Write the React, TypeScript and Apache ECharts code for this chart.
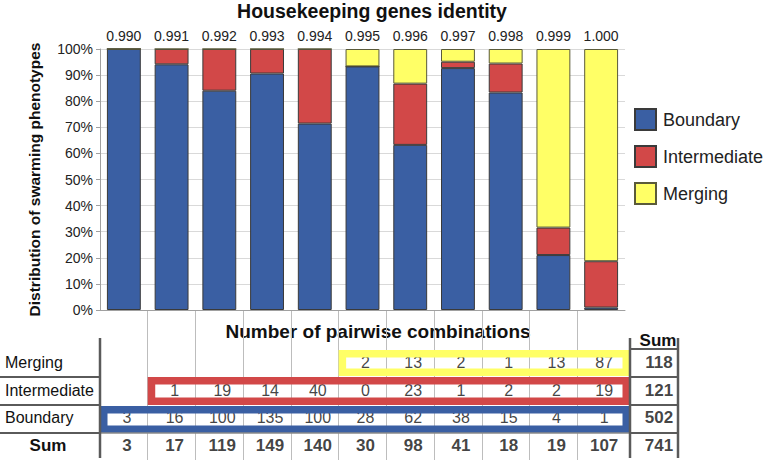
import React, { useEffect, useRef } from 'react';
import * as echarts from 'echarts';

const identity = ['0.990', '0.991', '0.992', '0.993', '0.994', '0.995', '0.996', '0.997', '0.998', '0.999', '1.000'];
const boundaryCounts: (number | null)[] = [3, 16, 100, 135, 100, 28, 62, 38, 15, 4, 1];
const intermediateCounts: (number | null)[] = [null, 1, 19, 14, 40, 0, 23, 1, 2, 2, 19];
const mergingCounts: (number | null)[] = [null, null, null, null, null, 2, 13, 2, 1, 13, 87];
const tableRows = ['Merging', 'Intermediate', 'Boundary', 'Sum'];
const yTicks = [0, 10, 20, 30, 40, 50, 60, 70, 80, 90, 100];

const BLUE = '#3A5FA3';
const RED = '#D24848';
const YELLOW = '#FFFF66';
const FONT = '"Liberation Sans", Arial, Helvetica, sans-serif';

const PLOT_LEFT = 100;
const PLOT_RIGHT = 625;

export default function App() {
  const ref = useRef<HTMLDivElement>(null);
  useEffect(() => {
    const chart = echarts.init(ref.current!, null, { renderer: 'svg' });
    const n = identity.length;
    const v = (x: number | null) => (x === null ? 0 : x);
    const colTotals = identity.map((_, i) => v(boundaryCounts[i]) + v(intermediateCounts[i]) + v(mergingCounts[i]));
    const rowTotal = (arr: (number | null)[]) => arr.reduce((s: number, x) => s + v(x), 0);
    const rowTotals = [rowTotal(mergingCounts), rowTotal(intermediateCounts), rowTotal(boundaryCounts)];
    const grand = colTotals.reduce((s, x) => s + x, 0);
    const pct = (arr: (number | null)[]) => arr.map((x, i) => (v(x) / colTotals[i]) * 100);

    const cellW = (PLOT_RIGHT - PLOT_LEFT) / n;
    const firstIdx = (arr: (number | null)[]) => arr.findIndex((x) => x !== null);

    const barCommon = {
      type: 'bar',
      stack: 'total',
      xAxisIndex: 0,
      yAxisIndex: 0,
      barCategoryGap: '29%',
    };

    const cellSeries = (name: string, row: number, values: (number | null)[], bold: boolean, xi: number, yi: number, off: number) => ({
      type: 'scatter',
      name,
      xAxisIndex: xi,
      yAxisIndex: yi,
      symbolSize: 1,
      silent: true,
      itemStyle: { color: 'rgba(0,0,0,0)' },
      data: values
        .map((val, i) => (val === null ? null : [i, row, val]))
        .filter((d) => d !== null),
      label: {
        show: true,
        position: 'inside',
        formatter: (p: any) => String(p.value[2]),
        fontSize: bold ? 17 : 16,
        fontWeight: bold ? 'bold' : 'normal',
        color: '#111',
        fontFamily: FONT,
        offset: [off, 0],
      },
    });

    const box = (x0: number, y0: number, x1: number, y1: number, color: string) => {
      const lw = 7.5;
      return {
        type: 'rect',
        silent: true,
        z: 5,
        shape: { x: x0 + lw / 2, y: y0 + lw / 2, width: x1 - x0 - lw, height: y1 - y0 - lw },
        style: { fill: 'none', stroke: color, lineWidth: lw },
      };
    };
    const line = (x1: number, y1: number, x2: number, y2: number, color: string, w: number) => ({
      type: 'line',
      silent: true,
      z: 10,
      shape: { x1, y1, x2, y2 },
      style: { stroke: color, lineWidth: w },
    });
    const dark = '#5a5a5a';

    const option: any = {
      animation: false,
      textStyle: { fontFamily: FONT },
      legend: {
        orient: 'vertical',
        left: 634,
        top: 108,
        padding: 0,
        itemWidth: 21,
        itemHeight: 21,
        itemGap: 14,
        icon: 'rect',
        data: ['Boundary', 'Intermediate', 'Merging'],
        textStyle: { fontSize: 18, color: '#222', fontFamily: FONT, padding: [0, 0, 0, 2] },
      },
      grid: [
        { left: PLOT_LEFT, right: 768 - PLOT_RIGHT, top: 49, bottom: 150 },
        { left: PLOT_LEFT, right: 768 - PLOT_RIGHT, top: 310, bottom: 0 },
        { left: PLOT_LEFT, right: 768 - PLOT_RIGHT, top: 349, height: 110 },
        { left: 630, width: 48, top: 349, height: 110 },
      ],
      xAxis: [
        {
          type: 'category', gridIndex: 0, position: 'bottom', data: identity,
          axisLabel: { show: false }, axisTick: { show: false },
          axisLine: { lineStyle: { color: '#a0a0a0' } },
        },
        {
          type: 'category', gridIndex: 0, position: 'top', data: identity,
          axisLabel: { fontSize: 14, color: '#222', margin: 6 },
          axisLine: { show: false }, axisTick: { show: false },
        },
        {
          type: 'category', gridIndex: 1, data: identity,
          axisLabel: { show: false }, axisTick: { show: false }, axisLine: { show: false },
          splitLine: { show: true, showMinLine: false, showMaxLine: false, lineStyle: { color: '#bdbdbd', width: 1 } },
        },
        { type: 'category', gridIndex: 2, data: identity, show: false },
        { type: 'category', gridIndex: 3, data: ['Sum'], show: false },
      ],
      yAxis: [
        {
          type: 'value', gridIndex: 0, min: 0, max: 100, interval: 10,
          axisLabel: { formatter: (val: number) => (yTicks.includes(val) ? val + '%' : ''), fontSize: 14, color: '#222', margin: 7 },
          axisLine: { show: true, lineStyle: { color: '#a0a0a0' } },
          axisTick: { show: true, length: 4, lineStyle: { color: '#a0a0a0' } },
          splitLine: { lineStyle: { color: '#d9d9d9' } },
          name: 'Distribution of swarming phenotypes',
          nameLocation: 'middle',
          nameGap: 58,
          nameTextStyle: { fontSize: 15.5, fontWeight: 'bold', color: '#111' },
        },
        { type: 'value', gridIndex: 1, show: false },
        {
          type: 'category', gridIndex: 2, data: tableRows, inverse: true,
          axisLine: { show: false }, axisTick: { show: false }, splitLine: { show: false },
          axisLabel: {
            align: 'left', margin: 95, fontSize: 16, color: '#111',
            formatter: (val: string) => (val === 'Sum' ? '{s|Sum}' : val),
            rich: { s: { fontWeight: 'bold', fontSize: 17, width: 86, align: 'center', color: '#111', fontFamily: FONT } },
          },
        },
        { type: 'category', gridIndex: 3, data: tableRows, inverse: true, show: false },
      ],
      series: [
        { ...barCommon, name: 'Boundary', data: pct(boundaryCounts), itemStyle: { color: BLUE, borderColor: '#3a3a3a', borderWidth: 1 } },
        { ...barCommon, name: 'Intermediate', data: pct(intermediateCounts), itemStyle: { color: RED, borderColor: '#3a3a3a', borderWidth: 1 } },
        { ...barCommon, name: 'Merging', data: pct(mergingCounts), itemStyle: { color: YELLOW, borderColor: '#5a5a3a', borderWidth: 1 } },
        { type: 'line', xAxisIndex: 2, yAxisIndex: 1, data: [], silent: true },
        cellSeries('mergingCells', 0, mergingCounts, false, 3, 2, 3),
        cellSeries('intermediateCells', 1, intermediateCounts, false, 3, 2, 3),
        cellSeries('boundaryCells', 2, boundaryCounts, false, 3, 2, 3),
        cellSeries('sumCells', 3, colTotals, true, 3, 2, 3),
        cellSeries('rowTotals', 0, [rowTotals[0]], true, 4, 3, 5),
        cellSeries('rowTotals2', 1, [rowTotals[1]], true, 4, 3, 5),
        cellSeries('rowTotals3', 2, [rowTotals[2]], true, 4, 3, 5),
        cellSeries('grandTotal', 3, [grand], true, 4, 3, 5),
      ],
      graphic: [
        { type: 'text', silent: true, x: 372, y: 11, style: { text: 'Housekeeping genes identity', fontSize: 19.5, fontWeight: 'bold', fill: '#111', align: 'center', verticalAlign: 'middle', fontFamily: FONT } },
        { type: 'text', silent: true, x: 378, y: 331, style: { text: 'Number of pairwise combinations', fontSize: 19, fontWeight: 'bold', fill: '#111', align: 'center', verticalAlign: 'middle', fontFamily: FONT } },
        { type: 'text', silent: true, x: 658, y: 340, style: { text: 'Sum', fontSize: 17, fontWeight: 'bold', fill: '#111', align: 'center', verticalAlign: 'middle', fontFamily: FONT } },
        line(100, 433, 630, 433, '#8a8a8a', 1.5),
        box(PLOT_LEFT + firstIdx(mergingCounts) * cellW, 350, 630, 376, YELLOW),
        box(PLOT_LEFT + firstIdx(intermediateCounts) * cellW, 377, 630, 405, RED),
        box(PLOT_LEFT + firstIdx(boundaryCounts) * cellW, 406, 630, 433, BLUE),
        line(100, 338, 100, 458, dark, 2.5),
        line(630, 338, 630, 458, dark, 2.5),
        line(678, 338, 678, 458, dark, 2.5),
        line(0, 377, 100, 377, dark, 2),
        line(0, 405, 100, 405, dark, 2),
        line(0, 433, 100, 433, dark, 2),
        line(630, 349, 678, 349, dark, 2),
        line(630, 377, 678, 377, dark, 2),
        line(630, 405, 678, 405, dark, 2),
        line(630, 433, 678, 433, dark, 2),
      ],
    };
    chart.setOption(option);
    return () => chart.dispose();
  }, []);
  return <div ref={ref} style={{ position: 'fixed', left: 0, top: 0, width: 768, height: 460, background: '#fff' }} />;
}
